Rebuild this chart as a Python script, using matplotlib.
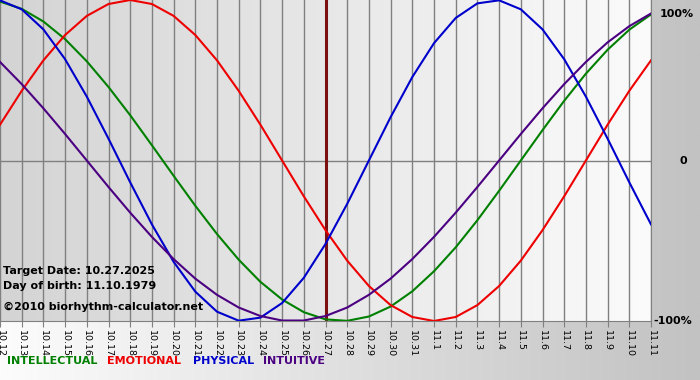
import numpy as np
import matplotlib
matplotlib.use("Agg")
import matplotlib.pyplot as plt

# days shown on the x axis (month.day)
days = ["10.12", "10.13", "10.14", "10.15", "10.16", "10.17", "10.18", "10.19",
        "10.20", "10.21", "10.22", "10.23", "10.24", "10.25", "10.26", "10.27",
        "10.28", "10.29", "10.30", "10.31", "11.1", "11.2", "11.3", "11.4",
        "11.5", "11.6", "11.7", "11.8", "11.9", "11.10", "11.11"]
target_day = "10.27"

# daily values (-1 .. 1)
physical = [0.998, 0.942, 0.817, 0.631, 0.398, 0.136, -0.136, -0.398, -0.631,
            -0.817, -0.942, -0.998, -0.979, -0.888, -0.731, -0.520, -0.270,
            0.0, 0.270, 0.520, 0.731, 0.888, 0.979, 0.998, 0.942, 0.817,
            0.631, 0.398, 0.136, -0.136, -0.398]
emotional = [0.223, 0.434, 0.624, 0.782, 0.901, 0.975, 1.0, 0.975, 0.901,
             0.782, 0.624, 0.434, 0.223, 0.0, -0.223, -0.434, -0.624, -0.782,
             -0.901, -0.975, -1.0, -0.975, -0.901, -0.782, -0.624, -0.434,
             -0.223, 0.0, 0.223, 0.434, 0.624]
intellectual = [0.990, 0.945, 0.866, 0.756, 0.618, 0.458, 0.282, 0.095,
                -0.095, -0.282, -0.458, -0.618, -0.756, -0.866, -0.945,
                -0.990, -0.999, -0.972, -0.910, -0.815, -0.690, -0.541,
                -0.372, -0.189, 0.0, 0.189, 0.372, 0.541, 0.690, 0.815, 0.910]
intuitive = [0.614, 0.476, 0.325, 0.165, 0.0, -0.165, -0.325, -0.476, -0.614,
             -0.736, -0.837, -0.916, -0.969, -0.997, -0.997, -0.969, -0.916,
             -0.837, -0.736, -0.614, -0.476, -0.325, -0.165, 0.0, 0.165,
             0.325, 0.476, 0.614, 0.736, 0.837, 0.916]

series = [("INTELLECTUAL", intellectual, "#008000"),
          ("EMOTIONAL", emotional, "#ee0000"),
          ("PHYSICAL", physical, "#0000cc"),
          ("INTUITIVE", intuitive, "#4b0082")]

W, H = 700, 380
fig = plt.figure(figsize=(W / 100, H / 100), dpi=100)

# figure background: white on the left fading to grey on the right
bg = fig.add_axes([0, 0, 1, 1], zorder=-10)
grad = np.linspace(0, 1, 256).reshape(1, -1)
bg.imshow(grad, cmap=matplotlib.colors.LinearSegmentedColormap.from_list(
    "bg", ["#fcfcfc", "#c2c2c2"]), aspect="auto", extent=(0, 1, 0, 1))
bg.set_axis_off()

ax = fig.add_axes([0, 59 / H, 651 / W, 321 / H])
x = np.arange(len(days))
ax.imshow(grad, cmap=matplotlib.colors.LinearSegmentedColormap.from_list(
    "plot", ["#d4d4d4", "#fbfbfb"]), aspect="auto",
    extent=(0, len(days) - 1, -1, 1), zorder=0)

for xi in x:
    ax.axvline(xi, color="#808080", lw=1, zorder=1)
ax.axhline(0, color="#808080", lw=1, zorder=1)
ax.axvline(days.index(target_day), color="#7a1010", lw=2.2, zorder=2)

for name, vals, col in series:
    ax.plot(x, vals, color=col, lw=1.5, zorder=3, solid_joinstyle="round")

ax.set_xlim(0, len(days) - 1)
ax.set_ylim(-1, 1)
ax.set_xticks(x)
ax.set_xticklabels(days, rotation=270, fontsize=6.8, va="top", ha="center")
ax.tick_params(axis="x", length=4.5, color="#808080", pad=2)
ax.set_yticks([])
for s in ["top", "left"]:
    ax.spines[s].set_visible(False)
for s in ["bottom", "right"]:
    ax.spines[s].set_color("#808080")

bold = dict(fontsize=8, fontweight="bold", family="DejaVu Sans")
fig.text(660 / W, 1 - 14 / H, "100%", va="center", ha="left", **bold)
fig.text(680 / W, 1 - 161 / H, "0", va="center", ha="left", **bold)
fig.text(653 / W, 1 - 321 / H, "-100%", va="center", ha="left", **bold)

fig.text(3 / W, 1 - 271 / H, "Target Date: 10.27.2025", va="center", **bold)
fig.text(3 / W, 1 - 286 / H, "Day of birth: 11.10.1979", va="center", **bold)
fig.text(3 / W, 1 - 307 / H, "\u00a92010 biorhythm-calculator.net",
         va="center", **bold)

leg_x = [7, 107, 193, 263]
for (name, vals, col), lx in zip(series, leg_x):
    fig.text(lx / W, 1 - 361 / H, name, color=col, va="center", **bold)

fig.savefig("out.png", dpi=100)
